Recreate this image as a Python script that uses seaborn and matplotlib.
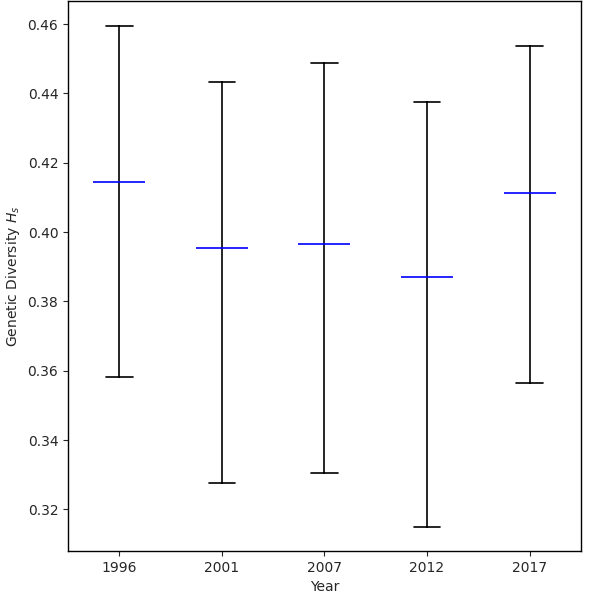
import pandas as pd
import matplotlib
matplotlib.use("Agg")
import matplotlib.pyplot as plt
import seaborn as sns

# values
years = ["1996", "2001", "2007", "2012", "2017"]
mean_hs = [0.4145, 0.3953, 0.3966, 0.3869, 0.4112]
low_hs = [0.3581, 0.3276, 0.3305, 0.3150, 0.3564]
high_hs = [0.4593, 0.4434, 0.4488, 0.4375, 0.4537]

# long table: low / mean / high per year, median -> mean, min/max -> interval
df = pd.DataFrame({
    "Year": years * 3,
    "Hs": low_hs + mean_hs + high_hs,
})

sns.set_style("ticks")
plt.rcParams["font.family"] = ["DejaVu Sans"]

fig = plt.figure(figsize=(5.97, 5.95), dpi=100)
ax = fig.add_axes([0.114, 0.074, 0.859, 0.924])

# black range bars with caps
sns.pointplot(data=df, x="Year", y="Hs", order=years, estimator="median",
              errorbar=lambda v: (v.min(), v.max()), color="black",
              capsize=0.26, linestyle="none", marker="None",
              err_kws={"linewidth": 1.2}, ax=ax)

# blue mean markers
sns.pointplot(data=df, x="Year", y="Hs", order=years, estimator="median",
              errorbar=None, color="blue", linestyle="none", marker="_",
              markersize=38, markeredgewidth=1.2, ax=ax)

ax.set_xlim(-0.5, 4.5)
ax.set_ylim(0.308, 0.4666)
ax.set_yticks([0.32, 0.34, 0.36, 0.38, 0.40, 0.42, 0.44, 0.46])
ax.set_xlabel("Year", fontsize=10)
ax.set_ylabel("Genetic Diversity $H_s$", fontsize=10)
ax.tick_params(labelsize=10)
for s in ax.spines.values():
    s.set_linewidth(1.0)
    s.set_color("black")

fig.savefig("out.png", dpi=100)
